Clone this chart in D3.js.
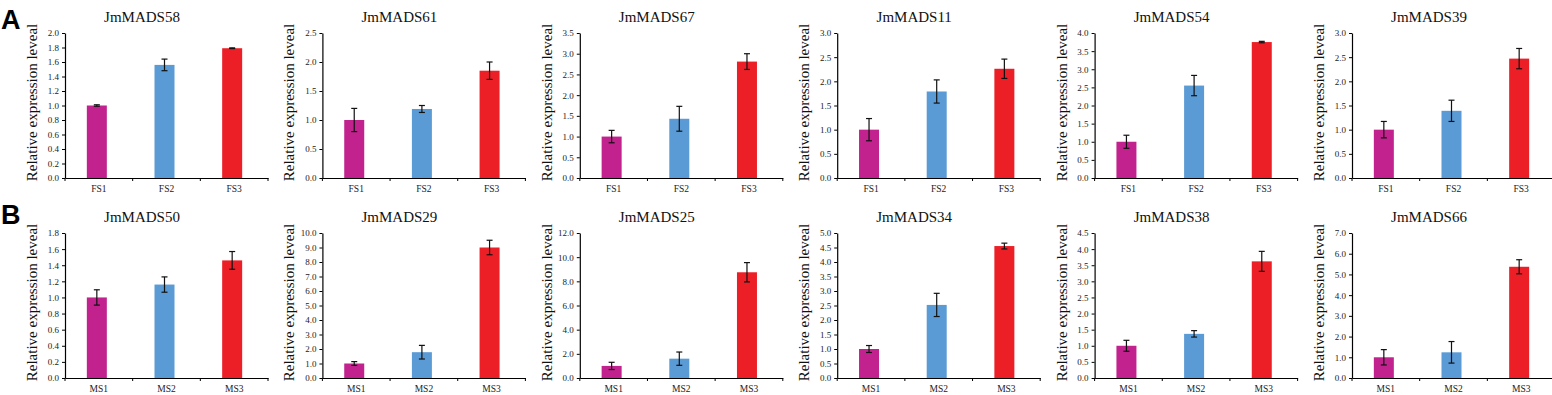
<!DOCTYPE html>
<html>
<head>
<meta charset="utf-8">
<script src="https://cdn.jsdelivr.net/npm/d3@7"></script>
<style>
  body { margin: 0; background: #fff; }
  svg text { font-family: "Liberation Serif", "DejaVu Serif", serif !important; }
  svg text.letter { font-family: "Liberation Sans", Arial, sans-serif !important; }
</style>
</head>
<body>
<svg id="chart"></svg>
<script>
// Row A: female stages
var genesA = ["JmMADS58", "JmMADS61", "JmMADS67", "JmMADS11", "JmMADS54", "JmMADS39"];
var stagesA = ["FS1", "FS2", "FS3"];
var valuesA = [
  [1.0, 1.56, 1.79],
  [1.0, 1.19, 1.85],
  [1.0, 1.43, 2.81],
  [1.0, 1.79, 2.26],
  [1.0, 2.55, 3.75],
  [1.0, 1.39, 2.47]
];
var errorsA = [
  [0.01, 0.08, 0.005],
  [0.20, 0.06, 0.15],
  [0.15, 0.30, 0.19],
  [0.23, 0.24, 0.20],
  [0.18, 0.28, 0.02],
  [0.17, 0.22, 0.21]
];
var yMaxA = [2.0, 2.5, 3.5, 3.0, 4.0, 3.0];
var yStepA = [0.2, 0.5, 0.5, 0.5, 0.5, 0.5];

// Row B: male stages
var genesB = ["JmMADS50", "JmMADS29", "JmMADS25", "JmMADS34", "JmMADS38", "JmMADS66"];
var stagesB = ["MS1", "MS2", "MS3"];
var valuesB = [
  [1.0, 1.16, 1.46],
  [1.0, 1.78, 9.0],
  [1.0, 1.6, 8.75],
  [1.0, 2.52, 4.55],
  [1.0, 1.37, 3.62],
  [1.0, 1.24, 5.37]
];
var errorsB = [
  [0.095, 0.095, 0.11],
  [0.13, 0.47, 0.5],
  [0.3, 0.55, 0.8],
  [0.12, 0.40, 0.10],
  [0.17, 0.10, 0.31],
  [0.37, 0.52, 0.34]
];
var yMaxB = [1.8, 10.0, 12.0, 5.0, 4.5, 7.0];
var yStepB = [0.2, 1.0, 2.0, 0.5, 0.5, 1.0];

var barColors = ["#c1228e", "#5b9bd5", "#ec1f27"];

var W = 1552, H = 395;
var svg = d3.select("#chart").attr("width", W).attr("height", H);
svg.append("rect").attr("width", W).attr("height", H).attr("fill", "#fff");

var firstAxisX = 65, panelStep = 257.4, axisW = 203, plotH = 145;

function drawRow(genes, stages, values, errors, yMax, yStep, top) {
  genes.forEach(function(gene, i) {
    var x0 = firstAxisX + i * panelStep;
    var g = svg.append("g").attr("transform", "translate(" + x0 + "," + top + ")");

    var x = d3.scaleBand().domain(stages).range([0, axisW]).paddingInner(0).paddingOuter(0);
    var y = d3.scaleLinear().domain([0, yMax[i]]).range([plotH, 0]);
    var bw = 20;

    // bars
    g.selectAll("rect.bar")
      .data(stages)
      .enter()
      .append("rect")
      .attr("class", "bar")
      .attr("x", function(d) { return x(d) + x.bandwidth() / 2 - bw / 2 - 2; })
      .attr("y", function(d, j) { return y(values[i][j]); })
      .attr("width", bw)
      .attr("height", function(d, j) { return plotH - y(values[i][j]); })
      .attr("fill", function(d, j) { return barColors[j]; });

    // error bars
    var eb = g.selectAll("g.err")
      .data(stages)
      .enter()
      .append("g")
      .attr("class", "err")
      .attr("stroke", "#111")
      .attr("stroke-width", 1.2);
    eb.append("line")
      .attr("x1", function(d) { return x(d) + x.bandwidth() / 2 - 2; })
      .attr("x2", function(d) { return x(d) + x.bandwidth() / 2 - 2; })
      .attr("y1", function(d, j) { return y(values[i][j] + errors[i][j]); })
      .attr("y2", function(d, j) { return y(values[i][j] - errors[i][j]); });
    [1, -1].forEach(function(sgn) {
      eb.append("line")
        .attr("x1", function(d) { return x(d) + x.bandwidth() / 2 - 5; })
        .attr("x2", function(d) { return x(d) + x.bandwidth() / 2 + 1; })
        .attr("y1", function(d, j) { return y(values[i][j] + sgn * errors[i][j]); })
        .attr("y2", function(d, j) { return y(values[i][j] + sgn * errors[i][j]); });
    });

    // y axis
    var ticks = d3.range(0, yMax[i] + yStep[i] / 2, yStep[i]);
    var yAxis = g.append("g")
      .call(d3.axisLeft(y).tickValues(ticks).tickFormat(d3.format(".1f")).tickSize(3).tickSizeOuter(0));
    yAxis.selectAll("text").attr("font-size", 9).attr("fill", "#222").attr("x", -6);

    // x axis: labels at band centres, ticks at band edges
    var xAxis = g.append("g")
      .attr("transform", "translate(0," + plotH + ")")
      .call(d3.axisBottom(x).tickSize(0).tickPadding(7));
    xAxis.selectAll("text").attr("font-size", 9.5).attr("fill", "#222");
    xAxis.selectAll("line.edge")
      .data(stages.concat(["end"]))
      .enter()
      .append("line")
      .attr("class", "edge")
      .attr("stroke", "#000")
      .attr("x1", function(d, j) { return j * x.step(); })
      .attr("x2", function(d, j) { return j * x.step(); })
      .attr("y1", 0)
      .attr("y2", 3);
    g.selectAll(".domain").attr("stroke", "#000").attr("stroke-width", 1.2);

    // title
    g.append("text")
      .attr("x", 77)
      .attr("y", -11)
      .attr("text-anchor", "middle")
      .attr("font-size", 15)
      .attr("fill", "#111")
      .text(gene);

    // y label
    g.append("text")
      .attr("transform", "translate(-28," + (plotH / 2 - 3) + ") rotate(-90)")
      .attr("text-anchor", "middle")
      .attr("font-size", 15)
      .attr("fill", "#111")
      .text("Relative expression  leveal");
  });
}

drawRow(genesA, stagesA, valuesA, errorsA, yMaxA, yStepA, 33);
drawRow(genesB, stagesB, valuesB, errorsB, yMaxB, yStepB, 233);

// panel letters
svg.append("text").attr("class", "letter").attr("x", 1).attr("y", 29).text("A")
  .attr("font-weight", "bold").attr("font-size", 27);
svg.append("text").attr("class", "letter").attr("x", 1).attr("y", 224).text("B")
  .attr("font-weight", "bold").attr("font-size", 27);
</script>
</body>
</html>
